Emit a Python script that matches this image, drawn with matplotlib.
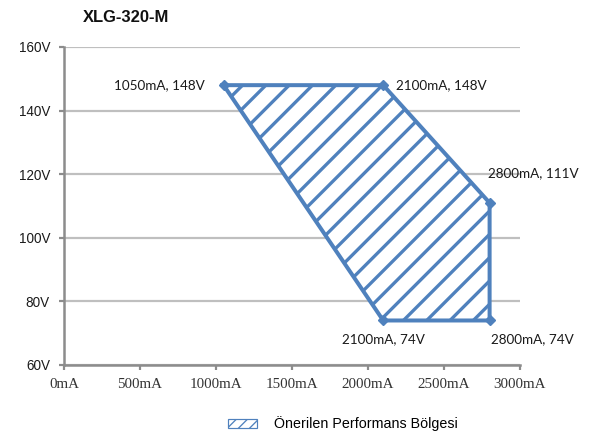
import matplotlib
matplotlib.use("Agg")
import numpy as np
import matplotlib.pyplot as plt
from matplotlib.patches import Polygon, Patch

# Data
current_ma = [1050, 2100, 2800, 2800, 2100]
voltage_v = [148, 148, 111, 74, 74]
point_labels = ["1050mA, 148V", "2100mA, 148V", "2800mA, 111V", "2800mA, 74V", "2100mA, 74V"]
x_ticks = [0, 500, 1000, 1500, 2000, 2500, 3000]
x_tick_labels = ["0mA", "500mA", "1000mA", "1500mA", "2000mA", "2500mA", "3000mA"]
y_ticks = [60, 80, 100, 120, 140, 160]
y_tick_labels = ["60V", "80V", "100V", "120V", "140V", "160V"]
title = "XLG-320-M"
legend_label = "Önerilen Performans Bölgesi"

DPI = 100
BLUE = "#4f81bd"


def px(v):
    return v * 72.0 / DPI


fig = plt.figure(figsize=(592 / DPI, 437 / DPI), dpi=DPI)
ax = fig.add_axes([64 / 592, 1 - 365 / 437, (520 - 64) / 592, (365 - 47) / 437])

ax.set_xlim(0, 3000)
ax.set_ylim(60, 160)

poly = Polygon(list(zip(current_ma, voltage_v)), closed=True, facecolor="white",
               edgecolor="none", zorder=2)
ax.add_patch(poly)

# manual 45-degree hatch (in pixel space), clipped to the region
verts_disp = ax.transData.transform(np.column_stack([current_ma, voltage_v]))
xmin, ymin = verts_disp.min(axis=0)
xmax, ymax = verts_disp.max(axis=0)
spacing = 23.3
k0 = verts_disp[0, 0] - verts_disp[0, 1] + 19
inv = ax.transData.inverted()
ks = np.arange(k0 - 40 * spacing, k0 + 40 * spacing, spacing)
for k in ks:
    xa, xb = xmin - 50, xmax + 50
    pts = inv.transform([[xa, xa - k], [xb, xb - k]])
    ln, = ax.plot(pts[:, 0], pts[:, 1], color=BLUE, linewidth=px(3.3),
                  solid_capstyle="butt", zorder=3)
    ln.set_clip_path(poly)

outline = Polygon(list(zip(current_ma, voltage_v)), closed=True, facecolor="none",
                  edgecolor=BLUE, linewidth=px(4), zorder=4)
ax.add_patch(outline)
ax.plot(current_ma, voltage_v, linestyle="none", marker="D", markersize=px(7),
        color=BLUE, zorder=5)

# labels
lab_font = dict(family=["Lato", "DejaVu Sans"], fontsize=px(13.5), color="#1a1a1a")
offsets = [(-19, 0, "right", "center"),
           (13, 0, "left", "center"),
           (-2, 30, "left", "center"),
           (1, -19, "left", "center"),
           (0, -19, "center", "center")]
for x, y, t, (dx, dy, ha, va) in zip(current_ma, voltage_v, point_labels, offsets):
    ax.annotate(t, (x, y), xytext=(px(dx), px(dy)), textcoords="offset points",
                ha=ha, va=va, **lab_font)

ax.set_yticks(y_ticks)
ax.set_yticklabels(y_tick_labels, family=["Liberation Sans Narrow", "Liberation Sans", "DejaVu Sans"],
                   fontsize=px(13.5), color="#1a1a1a")
ax.set_xticks(x_ticks)
ax.set_xticklabels(x_tick_labels, family=["Liberation Serif", "DejaVu Serif"],
                   fontsize=px(15), color="#333333")
ax.tick_params(axis="x", length=px(5), width=px(2.2), color="#8c8c8c", pad=px(8))
ax.tick_params(axis="y", length=px(5), width=px(2.2), color="#8c8c8c", pad=px(9))

ax.grid(axis="y", color="#bfbfbf", linewidth=px(2.2), zorder=0)
ax.set_axisbelow(True)
for s in ["top", "right"]:
    ax.spines[s].set_visible(False)
for s in ["left", "bottom"]:
    ax.spines[s].set_color("#8c8c8c")
    ax.spines[s].set_linewidth(px(2.5))

fig.text(83 / 592, 1 - 18 / 437, title, family=["Liberation Sans Narrow", "Liberation Sans", "DejaVu Sans"],
         fontweight="bold", fontsize=px(16.5), va="center", ha="left", color="#111111")

plt.rcParams['hatch.linewidth'] = px(1.3)
plt.rcParams['hatch.color'] = BLUE
handle = Patch(facecolor="white", edgecolor=BLUE, hatch="///", linewidth=px(1.2))
fig.legend([handle], [legend_label], loc="center", bbox_to_anchor=(343 / 592, 1 - 424 / 437),
           frameon=False, handlelength=2.0, handleheight=0.7, handletextpad=1.2,
           prop=dict(family=["Liberation Sans Narrow", "Liberation Sans", "DejaVu Sans"], size=px(14.2)))

fig.savefig("out.png", dpi=DPI)
